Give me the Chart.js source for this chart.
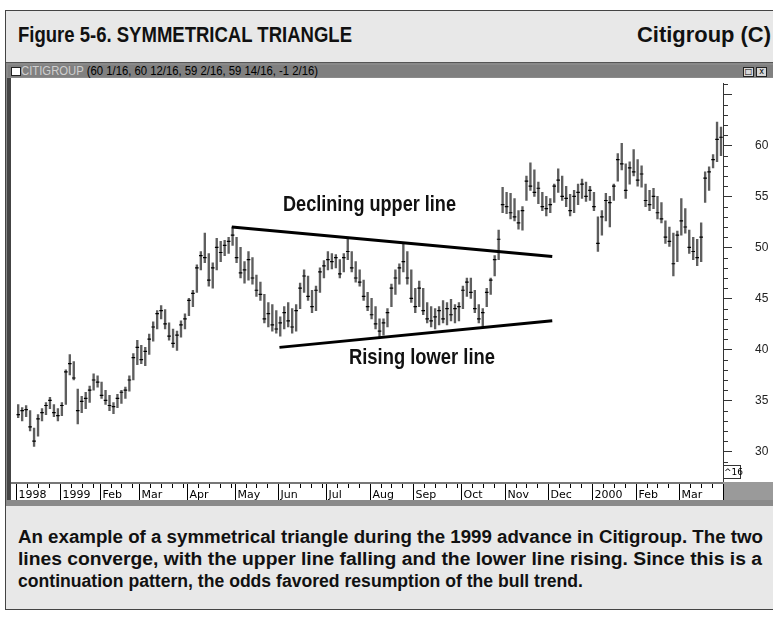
<!DOCTYPE html>
<html>
<head>
<meta charset="utf-8">
<script src="https://cdn.jsdelivr.net/npm/chart.js@4.4.1/dist/chart.umd.min.js"></script>
<style>
  body { margin: 0; width: 773px; height: 620px; overflow: hidden; position: relative; background: #fff;
         font-family: "Liberation Sans", Arial, sans-serif; }
  .abs { position: absolute; }
  .fit { white-space: nowrap; transform-origin: 0 0; }
  #frame { left: 5px; top: 10px; width: 800px; height: 598px; background: #e8e8e8;
           border-top: 1px solid #444; border-left: 1px solid #444; border-bottom: 1px solid #444; }
  .head { font-weight: bold; font-size: 22px; line-height: 26px; color: #111; }
  #win { left: 6px; top: 62px; width: 800px; height: 443px; background: #8a8a8a; border-top: 1px solid #555; }
  #bar { left: 8px; top: 65px; width: 780px; height: 12px; background: #808080; }
  #icon { left: 11px; top: 67px; width: 8px; height: 7px; background: #fff; border: 1px solid #222; }
  #wtitle { left: 21px; top: 64px; font-size: 12px; line-height: 14px; color: #000; }
  #wtitle span { color: #cfcfcf; }
  .btn { top: 67px; width: 9px; height: 8px; background: #d8d8d8; border: 1px solid #222; font: 8px/8px "DejaVu Sans", sans-serif; text-align: center; color: #000; }
  #plotbg { left: 11px; top: 78px; width: 762px; height: 404px; background: #fff; }
  #stripbg { left: 11px; top: 482px; width: 712px; height: 18px; background: #fff; border-top: 2px solid #777; box-sizing: border-box; }
  #filler { left: 723px; top: 482px; width: 60px; height: 18px; background: #9a9a9a; }
  #leftedge { left: 7px; top: 78px; width: 4px; height: 422px; background: #444; }
  #sixteen { left: 723px; top: 465px; width: 16px; height: 12px; border: 1px solid #333; background: #fff;
             font: 9px/12px "DejaVu Sans", sans-serif; text-align: center; color: #000; }
  canvas { position: absolute; left: 11px; top: 78px; }
  .note { font-weight: bold; font-size: 22px; line-height: 24px; color: #111; }
  .cap { left: 18px; font-weight: bold; font-size: 18px; line-height: 20px; color: #111; }
</style>
</head>
<body>
<div id="frame" class="abs"></div>
<div class="abs fit head" data-w="334" style="left:18px; top:22px">Figure 5-6. SYMMETRICAL TRIANGLE</div>
<div class="abs fit head" data-w="134" style="left:637px; top:22px">Citigroup (C)</div>
<div id="win" class="abs"></div>
<div id="bar" class="abs"></div>
<div id="icon" class="abs"></div>
<div id="wtitle" class="abs fit" data-w="297"><span>CITIGROUP</span> (60 1/16, 60 12/16, 59 2/16, 59 14/16, -1 2/16)</div>
<div class="abs btn" style="left:743px">&#9633;</div>
<div class="abs btn" style="left:756px">x</div>
<div id="plotbg" class="abs"></div>
<div id="stripbg" class="abs"></div>
<div id="filler" class="abs"></div>
<div id="leftedge" class="abs"></div>
<canvas id="chart" width="762" height="422"></canvas>
<div id="sixteen" class="abs">^16</div>
<div class="abs fit note" data-w="173" style="left:283px; top:192px">Declining upper line</div>
<div class="abs fit note" data-w="146" style="left:349px; top:345px">Rising lower line</div>
<div class="abs fit cap" data-w="745" style="top:527px">An example of a symmetrical triangle during the 1999 advance in Citigroup. The two</div>
<div class="abs fit cap" data-w="744" style="top:549px">lines converge, with the upper line falling and the lower line rising. Since this is a</div>
<div class="abs fit cap" data-w="565" style="top:571px">continuation pattern, the odds favored resumption of the bull trend.</div>

<script>
// one bar per ~2 trading days, Dec 1998 to Mar 2000
const highs = [
  34.6, 34.3, 34.5, 34.0, 32.3, 33.6, 34.2, 34.8, 35.3, 34.6, 34.2,
  34.8, 38.0, 39.5, 38.8, 36.1, 35.4, 35.8, 36.4, 37.6, 37.4,
  36.8, 36.0, 35.5, 34.8, 35.6, 36.0, 36.3, 37.4, 39.6, 40.9,
  40.4, 40.2, 41.5, 42.7, 43.8, 44.3, 43.9, 42.6, 42.0, 41.8, 42.8, 43.5,
  45.0, 45.8, 48.3, 49.6, 51.4, 49.4, 48.5, 50.9, 50.6, 50.7, 51.0, 52.0,
  51.0, 50.0, 48.6, 49.6, 49.0, 47.3, 46.6, 45.4, 44.6, 44.4, 43.8,
  43.2, 44.2, 44.6, 44.0, 44.4, 46.5, 47.8, 47.2, 45.8, 46.2, 48.0, 48.7,
  49.6, 49.4, 49.3, 48.8, 49.4, 50.9, 49.6, 48.6, 47.8, 46.8, 45.6,
  45.0, 44.2, 43.0, 43.0, 44.0, 46.4, 47.8, 48.4, 50.4, 49.6, 47.8,
  46.0, 46.7, 46.0, 44.6, 44.2, 44.0, 44.2, 44.8, 44.6, 44.9, 44.4, 44.6,
  46.2, 47.0, 47.0, 45.8, 44.4, 44.0, 46.0, 47.0, 49.2, 51.7, 55.9,
  55.4, 55.3, 54.8, 53.6, 54.0, 57.0, 58.3, 57.6, 56.4, 55.4, 55.0,
  54.8, 56.2, 57.7, 57.0, 56.0, 55.2, 55.6, 56.2, 56.7, 56.4, 56.0,
  55.4, 53.0, 53.6, 55.3, 55.0, 56.2, 59.2, 60.2, 58.2, 58.4, 59.6,
  58.6, 58.0, 56.2, 55.6, 55.8, 55.0, 54.4, 52.6, 52.0, 51.4, 51.6,
  54.8, 53.8, 51.7, 51.0, 50.8, 52.4, 57.4, 57.9, 59.1, 62.3, 61.8
];
const lows = [
  33.3, 33.0, 33.4, 32.0, 30.5, 31.5, 33.0, 33.6, 34.2, 33.4, 33.0,
  33.5, 34.6, 37.5, 37.0, 32.7, 33.8, 34.2, 34.8, 36.0, 36.3,
  35.2, 34.6, 34.0, 33.7, 34.3, 34.7, 35.2, 35.9, 37.0, 38.5,
  38.6, 38.4, 39.5, 40.8, 42.0, 43.0, 42.0, 40.9, 40.2, 39.9, 41.2, 42.0,
  43.3, 44.2, 45.6, 47.8, 48.5, 46.2, 46.0, 47.8, 48.6, 49.2, 49.4, 50.2,
  48.5, 47.0, 46.5, 46.8, 46.4, 45.2, 44.8, 42.6, 42.2, 41.8, 41.6,
  41.3, 42.0, 42.2, 41.6, 41.8, 44.0, 45.6, 44.8, 43.6, 43.8, 45.6, 47.0,
  47.8, 47.9, 48.0, 47.0, 47.6, 48.8, 47.6, 46.6, 46.2, 44.8, 43.8,
  43.0, 42.0, 41.2, 41.4, 42.2, 44.2, 45.4, 46.4, 47.6, 46.4, 44.6,
  43.6, 44.2, 43.4, 42.6, 42.2, 42.0, 42.4, 42.6, 42.4, 42.8, 42.6, 42.8,
  44.0, 45.2, 45.0, 43.6, 42.6, 42.2, 44.2, 45.4, 47.2, 48.8, 53.4,
  53.3, 52.8, 52.6, 51.8, 51.7, 54.6, 55.6, 55.0, 54.3, 53.6, 53.1,
  53.4, 54.4, 55.4, 54.6, 54.0, 53.1, 53.4, 54.2, 54.8, 54.5, 54.6,
  53.6, 49.6, 51.2, 52.6, 52.0, 54.6, 56.5, 57.6, 54.8, 56.2, 57.0,
  56.0, 55.9, 54.0, 53.6, 53.8, 52.8, 52.4, 50.4, 50.1, 47.2, 48.6,
  51.2, 51.4, 49.4, 48.8, 48.2, 48.6, 54.4, 55.6, 57.8, 58.4, 59.0
];
const closes = [
  33.6, 34.0, 34.1, 32.4, 31.0, 33.2, 33.8, 34.5, 35.0, 33.8, 33.5,
  34.5, 37.8, 38.6, 37.2, 34.0, 34.9, 35.2, 36.0, 37.0, 36.8,
  35.5, 35.0, 34.5, 34.4, 35.2, 35.8, 36.0, 37.0, 39.2, 40.2,
  39.0, 39.8, 41.0, 42.2, 43.5, 43.8, 42.5, 41.3, 40.6, 41.4, 42.4, 43.0,
  44.8, 45.5, 48.0, 49.2, 49.0, 46.8, 48.0, 50.0, 49.5, 50.2, 50.6, 51.2,
  49.0, 47.5, 47.8, 48.8, 47.0, 45.8, 45.4, 43.0, 43.5, 42.4, 42.0,
  42.6, 43.6, 42.8, 42.2, 43.8, 46.0, 47.2, 45.2, 44.2, 45.8, 47.6, 48.2,
  48.8, 48.6, 49.0, 47.4, 49.0, 49.6, 48.0, 47.0, 46.6, 45.2, 44.2,
  43.4, 42.5, 41.8, 42.6, 43.6, 46.0, 47.0, 48.0, 48.6, 47.0, 45.0,
  44.2, 46.0, 43.8, 43.0, 42.8, 43.2, 43.8, 43.0, 44.0, 43.4, 44.0, 44.2,
  45.8, 46.6, 45.6, 44.0, 43.0, 43.6, 45.6, 46.8, 48.8, 50.8, 54.2,
  54.0, 53.4, 53.0, 52.4, 53.6, 56.5, 56.0, 55.4, 55.8, 54.0, 53.8,
  54.2, 56.0, 56.6, 55.0, 54.8, 53.6, 55.0, 55.4, 56.2, 55.0, 55.6,
  54.0, 50.4, 53.0, 54.6, 54.4, 56.0, 58.6, 58.2, 55.6, 57.8, 57.4,
  56.6, 57.2, 54.6, 54.2, 55.0, 53.4, 52.8, 51.0, 50.6, 48.4, 51.2,
  52.6, 52.0, 50.0, 49.6, 49.0, 51.0, 56.8, 57.4, 58.6, 60.6, 60.8
];

// month strip: label and index of the first bar of that month
const monthLabels = ['1998', '1999', 'Feb', 'Mar', 'Apr', 'May', 'Jun', 'Jul', 'Aug', 'Sep', 'Oct', 'Nov', 'Dec', '2000', 'Feb', 'Mar'];
const monthStarts = [0, 11, 21, 31, 43, 55, 66, 78, 89, 100, 112, 123, 134, 145, 156, 167];

// hand drawn trendlines (bar index, price)
const upperLine = [{ x: 53.8, y: 52.0 }, { x: 134.5, y: 49.1 }];
const lowerLine = [{ x: 65.8, y: 40.2 }, { x: 134.5, y: 42.8 }];

// squeeze the bold texts to the narrow widths of the original
document.querySelectorAll('.fit').forEach(function (el) {
    const w = el.getBoundingClientRect().width;
    el.style.transform = 'scaleX(' + (el.dataset.w / w) + ')';
});

const priceTicks = {
    id: 'priceTicks',
    afterDraw(chart) {
        const y = chart.scales.y;
        const ctx = chart.ctx;
        const x0 = chart.chartArea.right;
        ctx.save();
        ctx.strokeStyle = '#333';
        ctx.lineWidth = 1;
        for (let v = Math.ceil(y.min); v <= y.max; v++) {
            const py = Math.round(y.getPixelForValue(v)) + 0.5;
            ctx.beginPath();
            ctx.moveTo(x0, py);
            ctx.lineTo(x0 + (v % 5 === 0 ? 9 : 5), py);
            ctx.stroke();
        }
        ctx.restore();
    }
};

const monthStrip = {
    id: 'monthStrip',
    afterDraw(chart) {
        const { ctx, chartArea } = chart;
        const x = chart.scales.x;
        const top = chartArea.bottom + 3;
        const bottom = top + 19;
        ctx.save();
        ctx.strokeStyle = '#000';
        ctx.fillStyle = '#000';
        ctx.lineWidth = 1;
        ctx.font = '11px "DejaVu Sans", sans-serif';
        monthStarts.forEach((s, k) => {
            const next = k + 1 < monthStarts.length ? monthStarts[k + 1] : highs.length;
            const px = Math.round(x.getPixelForValue(s - 0.5)) + 0.5;
            ctx.beginPath();
            ctx.moveTo(px, top);
            ctx.lineTo(px, bottom);
            ctx.stroke();
            for (let t = s + 2.75; t < next - 0.6; t += 2.75) {
                const tx = Math.round(x.getPixelForValue(t - 0.5)) + 0.5;
                ctx.beginPath();
                ctx.moveTo(tx, top);
                ctx.lineTo(tx, top + 4);
                ctx.stroke();
            }
            ctx.fillText(monthLabels[k], px + 2, top + 14);
        });
        const end = Math.round(x.getPixelForValue(highs.length - 0.5)) + 0.5;
        ctx.beginPath();
        ctx.moveTo(end, top);
        ctx.lineTo(end, bottom);
        ctx.stroke();
        ctx.restore();
    }
};

document.addEventListener('DOMContentLoaded', function () {
    const el = document.getElementById('chart');

    new Chart(el, {
        type: 'bar',
        data: {
            datasets: [{
                type: 'line',
                data: upperLine,
                borderColor: '#000',
                borderWidth: 3,
                pointRadius: 0,
                order: 1
            }, {
                type: 'line',
                data: lowerLine,
                borderColor: '#000',
                borderWidth: 3,
                pointRadius: 0,
                order: 1
            }, {
                type: 'scatter',
                data: closes.map((c, i) => ({ x: i, y: c })),
                pointStyle: 'line',
                pointRadius: 1.8,
                borderColor: '#000',
                borderWidth: 1.2,
                order: 2
            }, {
                type: 'bar',
                data: highs.map((h, i) => ({ x: i, y: [lows[i], h] })),
                backgroundColor: '#5e5e5e',
                barThickness: 1.7,
                borderWidth: 0,
                order: 3
            }]
        },
        options: {
            responsive: false,
            animation: false,
            layout: { padding: { left: 0, right: 0, top: 0, bottom: 19 } },
            plugins: {
                legend: { display: false },
                tooltip: { enabled: false }
            },
            scales: {
                x: {
                    type: 'linear',
                    min: -0.5,
                    max: highs.length - 0.5,
                    offset: false,
                    display: false
                },
                y: {
                    position: 'right',
                    min: 27.1,
                    max: 66.1,
                    afterFit(s) {
                        s.width = 50;
                        s.paddingTop = 0;
                        s.paddingBottom = 0;
                    },
                    grid: { display: false },
                    border: { display: true, color: '#333', width: 1 },
                    ticks: {
                        stepSize: 5,
                        padding: 24,
                        color: '#222',
                        font: { size: 12, family: '"Liberation Sans", Arial, sans-serif' },
                        callback: (v) => Math.abs(v / 5 - Math.round(v / 5)) < 1e-6 ? v : ''
                    }
                }
            }
        },
        plugins: [priceTicks, monthStrip]
    });
});
</script>
</body>
</html>
